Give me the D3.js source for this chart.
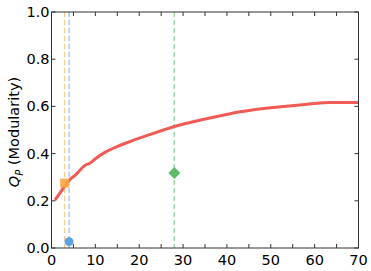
<!DOCTYPE html>
<html><head><meta charset="utf-8">
<script src="https://cdn.jsdelivr.net/npm/d3@7"></script>
<style>body{margin:0;background:#fff}svg{display:block}</style>
</head><body>
<svg id="c" width="371" height="271"></svg>
<script>
const curveX = [0.8, 2, 3, 4.2, 5.5, 7.6, 8.8, 10, 12, 15, 18, 22, 28, 33, 38, 43, 48, 53, 57, 60, 63.5, 67, 70];
const curveY = [0.204, 0.235, 0.262, 0.29, 0.31, 0.35, 0.36, 0.378, 0.403, 0.43, 0.452, 0.478, 0.515, 0.538, 0.558, 0.577, 0.59, 0.6, 0.607, 0.612, 0.616, 0.617, 0.617];
const markers = [
  {name: "orange", x: 3, y: 0.275, shape: "square", color: "#f7a540"},
  {name: "blue", x: 4, y: 0.027, shape: "circle", color: "#5ba3e0"},
  {name: "green", x: 28, y: 0.318, shape: "diamond", color: "#5cbd6a"}
];
const xTicks = [0, 10, 20, 30, 40, 50, 60, 70];
const xMinor = [5, 15, 25, 35, 45, 55, 65];
const yTicks = [0.0, 0.2, 0.4, 0.6, 0.8, 1.0];

const svg = d3.select("#c");
const L = 51.5, R = 358.5, T = 12, B = 248;
const x = d3.scaleLinear().domain([0, 70]).range([L, R]);
const y = d3.scaleLinear().domain([0, 1]).range([B, T]);
const font = "DejaVu Sans";

markers.forEach(m => {
  svg.append("line").attr("x1", x(m.x)).attr("x2", x(m.x)).attr("y1", T).attr("y2", B)
    .attr("stroke", m.color).attr("stroke-opacity", 0.6).attr("stroke-width", 1.5)
    .attr("stroke-dasharray", "5,3");
});

svg.append("path").datum(curveX.map((v, i) => [v, curveY[i]]))
  .attr("d", d3.line().x(d => x(d[0])).y(d => y(d[1])).curve(d3.curveMonotoneX))
  .attr("fill", "none").attr("stroke", "#f0524c").attr("stroke-width", 3).attr("stroke-opacity", 0.95);

markers.forEach(m => {
  const cx = x(m.x), cy = y(m.y);
  if (m.shape === "square") {
    svg.append("rect").attr("x", cx - 4.5).attr("y", cy - 4.5).attr("width", 9).attr("height", 9)
      .attr("fill", m.color).attr("fill-opacity", 0.9);
  } else if (m.shape === "circle") {
    svg.append("circle").attr("cx", cx).attr("cy", cy).attr("r", 4.5).attr("fill", m.color);
  } else {
    svg.append("path").attr("d", `M${cx},${cy-6}L${cx+6},${cy}L${cx},${cy+6}L${cx-6},${cy}Z`)
      .attr("fill", m.color);
  }
});

svg.append("rect").attr("x", L).attr("y", T).attr("width", R - L).attr("height", B - T)
  .attr("fill", "none").attr("stroke", "#333").attr("stroke-width", 1);

const tk = svg.append("g").attr("stroke", "#333").attr("stroke-width", 1);
xTicks.concat(xMinor).forEach(v => {
  tk.append("line").attr("x1", x(v)).attr("x2", x(v)).attr("y1", B).attr("y2", B - 4);
  tk.append("line").attr("x1", x(v)).attr("x2", x(v)).attr("y1", T).attr("y2", T + 4);
});
yTicks.forEach(v => {
  tk.append("line").attr("x1", L).attr("x2", L + 4).attr("y1", y(v)).attr("y2", y(v));
  tk.append("line").attr("x1", R).attr("x2", R - 4).attr("y1", y(v)).attr("y2", y(v));
});

xTicks.forEach(v => {
  svg.append("text").attr("x", x(v)).attr("y", B + 17).attr("text-anchor", "middle")
    .attr("font-family", font).attr("font-size", 14.5).attr("fill", "#000").text(v);
});
yTicks.forEach(v => {
  svg.append("text").attr("x", L - 2).attr("y", y(v) + 5).attr("text-anchor", "end")
    .attr("font-family", font).attr("font-size", 14.5).attr("fill", "#000").text(v.toFixed(1));
});

const yl = svg.append("text").attr("transform", `translate(19,${(T + B) / 2 + 2}) rotate(-90)`)
  .attr("text-anchor", "middle").attr("font-family", font).attr("font-size", 14.5).attr("fill", "#000");
yl.append("tspan").attr("font-style", "italic").text("Q");
yl.append("tspan").attr("font-style", "italic").attr("font-size", 10).attr("dy", 4).text("P");
yl.append("tspan").attr("dy", -4).text(" (Modularity)");
</script>
</body></html>
